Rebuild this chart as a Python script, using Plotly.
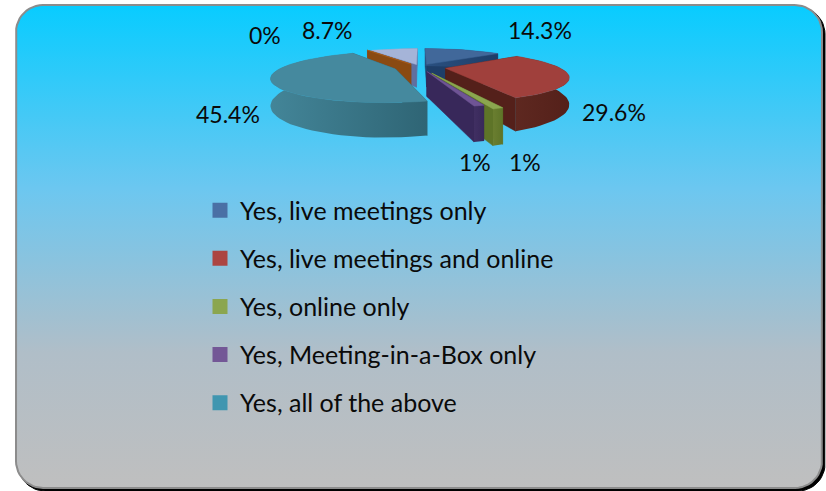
import math
import plotly.graph_objects as go

# ---- data
slice_names = ["Yes, live meetings only", "Yes, live meetings and online", "Yes, online only",
               "Yes, Meeting-in-a-Box only", "Yes, all of the above", "Other", "No"]
slice_values = [14.3, 29.6, 1, 1, 45.4, 0, 8.7]
slice_labels = ["14.3%", "29.6%", "1%", "1%", "45.4%", "0%", "8.7%"]
in_legend = [True, True, True, True, True, False, False]

# ---- styles
legend_colors = ["#4A70A5", "#AC4542", "#8BA64F", "#735796", "#4096B0", "#C06A20", "#A5B5D8"]
top_colors = ["#41689A", "#A0403C", "#8BA64F", "#6F5495", "#45899E", "#B0601C", "#A5B4D8"]
wall_colors = ["#1E3E68", "#54201A", "#5E7428", "#38285A", "#2F6575", "#8A4A12", "#6070A0"]
wall_light = ["#2A5080", "#5E2820", "#6A7E30", "#402F62", "#438598", "#99551A", "#7080A8"]
explode = [0.14, 0.23, 0.28, 0.20, 0.23, 0.16, 0.12]
label_pos = [(540, 30), (614, 112), (525, 162), (475, 162), (228, 114), (265, 35), (327, 30)]

CX, CY = 420, 67
F, G, K, H = 113, 22, 0.30, 23.5
START = 0


def proj(theta, r, mid, e, h):
    X = e * math.sin(mid) + r * math.sin(theta)
    Z = -e * math.cos(mid) - r * math.cos(theta)
    s = 1 / (1 - K * Z)
    return CX + F * X * s, CY + G * Z * s + H * s * h


fig = go.Figure()

# legend entries
for n, c, show in zip(slice_names, legend_colors, in_legend):
    if show:
        fig.add_trace(go.Scatter(x=[None], y=[None], mode="markers", name=n, legendgroup=n,
                                 marker=dict(symbol="square", size=15, color=c), hoverinfo="skip"))


# frame
def rounded(x0, y0, x1, y1, r):
    xs, ys = [], []
    for cx, cy, a0 in [(x1 - r, y0 + r, -90), (x1 - r, y1 - r, 0), (x0 + r, y1 - r, 90), (x0 + r, y0 + r, 180)]:
        for i in range(13):
            a = math.radians(a0 + 7.5 * i)
            xs.append(cx + r * math.cos(a))
            ys.append(cy + r * math.sin(a))
    return xs + xs[:1], ys + ys[:1]


sx, sy = rounded(18, 7, 825, 491, 27)
fig.add_trace(go.Scatter(x=sx, y=sy, mode="lines", fill="toself", fillcolor="#000000",
                         line=dict(color="#000000", width=1), showlegend=False, hoverinfo="skip"))
fx, fy = rounded(16, 5, 822, 488, 27)
fig.add_trace(go.Scatter(x=fx, y=fy, mode="lines", fill="toself",
                         fillgradient=dict(type="vertical", start=5, stop=488,
                                           colorscale=[[0, "#08CCFF"], [0.38, "#6CC7F0"],
                                                       [0.72, "#B0BEC8"], [1, "#BFBFBF"]]),
                         line=dict(color="#8C8C8C", width=2), showlegend=False, hoverinfo="skip"))

# pie geometry from values
total = sum(slice_values)
slices = []
acc = START
for i, v in enumerate(slice_values):
    a0 = acc
    a1 = acc + v / total * 360
    acc = a1
    slices.append((i, math.radians(a0), math.radians(a1)))

order = sorted(slices, key=lambda t: -math.cos((t[1] + t[2]) / 2), reverse=False)
for i, a0, a1 in order:
    mid = (a0 + a1) / 2
    e = explode[i]
    n = max(2, int(abs(a1 - a0) / math.radians(3)))
    thetas = [a0 + (a1 - a0) * j / n for j in range(n + 1)]
    # radial faces
    for t in (a0, a1):
        pts = [proj(t, 0, mid, e, 0), proj(t, 1, mid, e, 0), proj(t, 1, mid, e, 1), proj(t, 0, mid, e, 1)]
        fig.add_trace(go.Scatter(x=[p[0] for p in pts] + [pts[0][0]], y=[p[1] for p in pts] + [pts[0][1]],
                                 mode="lines", fill="toself", fillcolor=wall_colors[i],
                                 line=dict(color=wall_colors[i], width=0.5), showlegend=False, hoverinfo="skip"))
    # outer wall
    topa = [proj(t, 1, mid, e, 0) for t in thetas]
    bota = [proj(t, 1, mid, e, 1) for t in thetas]
    pts = topa + bota[::-1]
    fig.add_trace(go.Scatter(x=[p[0] for p in pts] + [pts[0][0]], y=[p[1] for p in pts] + [pts[0][1]],
                             mode="lines", fill="toself",
                             fillgradient=dict(type="horizontal",
                                               colorscale=[[0, wall_light[i]], [1, wall_colors[i]]]),
                             line=dict(width=0), showlegend=False, hoverinfo="skip"))
    # top face
    pts = [proj(0, 0, mid, e, 0)] + topa
    fig.add_trace(go.Scatter(x=[p[0] for p in pts] + [pts[0][0]], y=[p[1] for p in pts] + [pts[0][1]],
                             mode="lines", fill="toself", fillcolor=top_colors[i],
                             line=dict(color=top_colors[i], width=0.5), showlegend=False, hoverinfo="skip"))

for lab, (lx, ly) in zip(slice_labels, label_pos):
    fig.add_annotation(x=lx, y=ly, text=lab, showarrow=False, xref="x", yref="y",
                       font=dict(family="Lato", size=23, color="#0A0A0A"))

fig.update_layout(
    width=826, height=491, margin=dict(l=0, r=0, t=0, b=0),
    paper_bgcolor="#FFFFFF", plot_bgcolor="rgba(0,0,0,0)",
    xaxis=dict(range=[0, 826], visible=False, fixedrange=True),
    yaxis=dict(range=[491, 0], visible=False, fixedrange=True),
    showlegend=True,
    legend=dict(x=200 / 826, y=1 - 187.5 / 491, xanchor="left", yanchor="top", tracegroupgap=12.6,
                bgcolor="rgba(0,0,0,0)", font=dict(family="Lato", size=25, color="#0A0A0A"),
                itemclick=False, itemdoubleclick=False),
)
fig.write_html("out.html", config=dict(displayModeBar=False),
               post_script="document.body.style.margin='0';document.body.style.overflow='hidden';")
